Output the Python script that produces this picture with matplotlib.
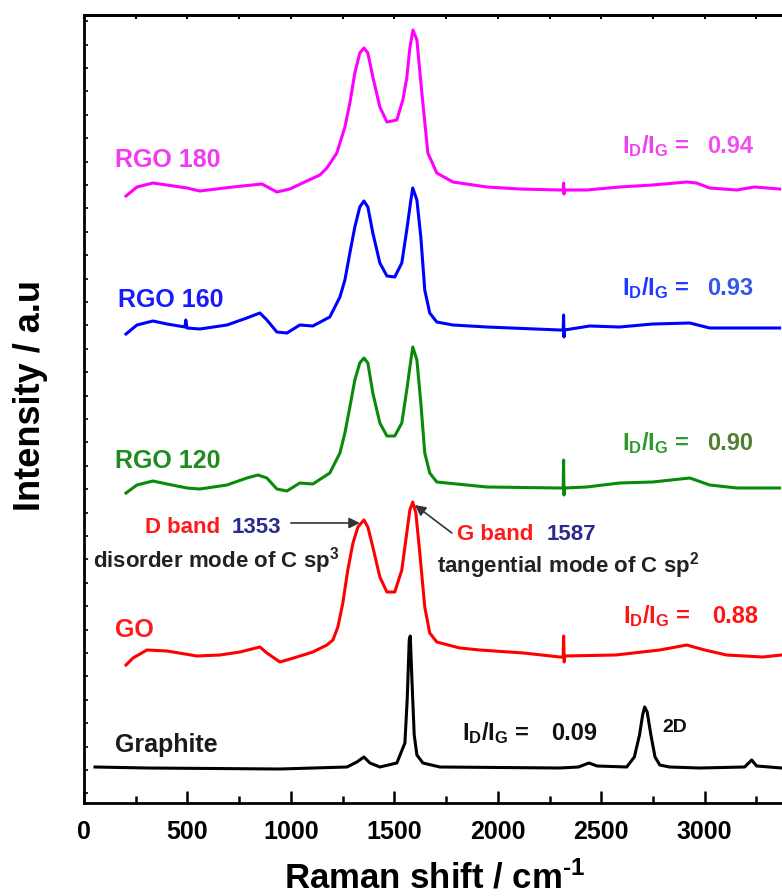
import matplotlib
matplotlib.use("Agg")
import matplotlib.pyplot as plt
from matplotlib.ticker import MultipleLocator

plt.rcParams.update({
    "font.family": "Liberation Sans",
    "font.weight": "bold",
    "mathtext.fontset": "custom",
    "mathtext.rm": "Liberation Sans:bold",
    "mathtext.it": "Liberation Sans:bold",
    "mathtext.bf": "Liberation Sans:bold",
    "mathtext.sf": "Liberation Sans:bold",
})

# Raman shift (cm-1) and stacked intensity (a.u.) of each sample
graphite_x = [53, 304, 947, 1271, 1319, 1353, 1382, 1430, 1512, 1551, 1562, 1572, 1577,
              1585, 1596, 1609, 1638, 1720, 2300, 2390, 2440, 2480, 2623, 2660, 2685,
              2700, 2710, 2722, 2740, 2760, 2783, 2830, 2976, 3193, 3227, 3251, 3372]
graphite_y = [36, 35, 34, 36, 41, 46, 40, 36, 40, 60, 103, 163, 167,
              123, 68, 48, 40, 36, 35, 36, 40, 37, 36, 46, 68,
              88, 96, 91, 68, 46, 38, 36, 35, 36, 43, 37, 35]

go_x = [203, 237, 304, 401, 546, 657, 754, 850, 884, 947, 1029, 1106, 1174, 1203, 1227,
        1251, 1275, 1300, 1324, 1353, 1372, 1396, 1430, 1464, 1502, 1536, 1560, 1575,
        1589, 1604, 1623, 1647, 1671, 1705, 1816, 1913, 2125, 2300, 2316, 2318, 2321,
        2324, 2570, 2783, 2913, 3000, 3106, 3280, 3372]
go_y = [138, 145, 153, 152, 147, 148, 151, 156, 150, 141, 146, 151, 158, 163, 176,
        200, 233, 260, 276, 283, 276, 256, 226, 211, 211, 233, 270, 293,
        301, 290, 250, 196, 170, 161, 155, 153, 150, 146, 146, 167, 141,
        147, 148, 153, 158, 153, 148, 146, 148]

rgo120_x = [203, 256, 333, 401, 498, 560, 691, 787, 841, 884, 932, 981, 1043, 1106, 1188,
            1237, 1261, 1285, 1309, 1333, 1353, 1372, 1396, 1430, 1464, 1502, 1536, 1560,
            1580, 1589, 1609, 1628, 1647, 1671, 1705, 1947, 2300, 2316, 2318, 2320, 2322,
            2430, 2589, 2749, 2928, 3024, 3155, 3362]
rgo120_y = [310, 318, 322, 319, 315, 314, 318, 325, 328, 325, 314, 312, 320, 319, 330,
            350, 370, 396, 423, 440, 445, 440, 410, 380, 367, 367, 380, 413,
            443, 456, 443, 400, 350, 330, 321, 316, 315, 315, 343, 308, 315,
            316, 320, 321, 325, 318, 315, 315]

rgo160_x = [203, 256, 333, 401, 488, 492, 498, 560, 691, 787, 850, 884, 932, 981, 1043,
            1106, 1188, 1237, 1261, 1285, 1309, 1333, 1353, 1372, 1396, 1430, 1464, 1502,
            1536, 1560, 1580, 1589, 1609, 1628, 1647, 1671, 1705, 1783, 1947, 2300, 2316,
            2318, 2320, 2322, 2444, 2589, 2749, 2928, 3024, 3362]
rgo160_y = [469, 478, 482, 479, 476, 483, 475, 474, 478, 485, 490, 483, 471, 470, 478,
            477, 486, 506, 523, 550, 576, 596, 602, 596, 570, 540, 527, 526,
            540, 573, 603, 615, 603, 566, 513, 490, 481, 478, 476, 473, 473,
            488, 466, 473, 477, 476, 479, 480, 475, 475]

rgo180_x = [203, 256, 333, 498, 560, 720, 860, 932, 995, 1077, 1140, 1174, 1222, 1261,
            1285, 1309, 1333, 1353, 1372, 1396, 1430, 1464, 1512, 1541, 1560, 1575, 1590,
            1609, 1633, 1662, 1705, 1783, 1947, 2106, 2300, 2316, 2318, 2320, 2322, 2430,
            2589, 2749, 2913, 2961, 3024, 3155, 3240, 3362]
rgo180_y = [607, 616, 620, 615, 612, 616, 619, 611, 614, 622, 628, 635, 650, 676,
            700, 730, 750, 755, 750, 726, 696, 681, 683, 703, 725, 755, 773,
            763, 710, 650, 630, 621, 616, 614, 613, 613, 620, 609, 613, 613,
            616, 618, 621, 620, 615, 613, 616, 614]

spectra = [
    (graphite_x, graphite_y, "black"),
    (go_x, go_y, "#ff0000"),
    (rgo120_x, rgo120_y, "#0a8a0a"),
    (rgo160_x, rgo160_y, "#0000ff"),
    (rgo180_x, rgo180_y, "#ff00ff"),
]

sample_names = ["Graphite", "GO", "RGO 120", "RGO 160", "RGO 180"]
name_colors = ["#1a1a1a", "#ff1a1a", "#1e8c1e", "#1a1aff", "#f03cf0"]
name_x = [150, 150, 150, 164, 150]
name_y = [51, 166, 335, 496, 636]

ratio_values = ["0.09", "0.88", "0.90", "0.93", "0.94"]
ratio_colors = ["#111111", "#ff1414", "#2e9a2e", "#1e3cff", "#f040f0"]
value_colors = ["#111111", "#ff1414", "#4f7f2f", "#3355ee", "#f050f0"]
ratio_x = [1826, 2604, 2599, 2599, 2599]
value_x = [2256, 3034, 3010, 3010, 3010]
ratio_y = [63, 180, 353, 508, 650]

fig = plt.figure(figsize=(7.82, 8.96), dpi=100)
ax = fig.add_axes([84 / 782, 93 / 896, 720 / 782, 788 / 896])

for xs, ys, c in spectra:
    ax.plot(xs, ys, color=c, lw=2.2, solid_joinstyle="round")

for name, c, x, y in zip(sample_names, name_colors, name_x, name_y):
    ax.text(x, y, name, color=c, fontsize=18, fontweight="bold", va="baseline")

for val, c1, c2, x1, x2, y in zip(ratio_values, ratio_colors, value_colors,
                                   ratio_x, value_x, ratio_y):
    ax.text(x1, y, r"I$_{D}$/I$_{G}$ =", color=c1, fontsize=17, va="baseline")
    ax.text(x2, y, val, color=c2, fontsize=17, va="baseline")

ax.text(2797, 71, "2D", color="#111111", fontsize=14, va="baseline")

# band assignments
ax.text(295, 270, "D band", color="#ff1a1a", fontsize=16, va="baseline")
ax.text(715, 270, "1353", color="#2b2b8c", fontsize=16, va="baseline")
ax.text(43, 236, r"disorder mode of C sp$^{3}$", color="#222222", fontsize=16,
        va="baseline")
ax.annotate("", xy=(1333, 280), xytext=(1000, 280),
            arrowprops=dict(arrowstyle="-|>", color="#333333", lw=1.2,
                            mutation_scale=16, shrinkA=0, shrinkB=0))

ax.text(1802, 263, "G band", color="#ff1a1a", fontsize=16, va="baseline")
ax.text(2237, 263, "1587", color="#2b2b8c", fontsize=16, va="baseline")
ax.text(1705, 231, r"tangential mode of C sp$^{2}$", color="#222222", fontsize=16,
        va="baseline")
ax.annotate("", xy=(1599, 298), xytext=(1778, 270),
            arrowprops=dict(arrowstyle="-|>", color="#333333", lw=1.2,
                            mutation_scale=16, shrinkA=0, shrinkB=0))

ax.set_xlim(0, 3480)
ax.set_ylim(0, 788)

ax.xaxis.set_major_locator(MultipleLocator(500))
ax.xaxis.set_minor_locator(MultipleLocator(250))
ax.yaxis.set_major_locator(MultipleLocator(23.4, offset=9.6))
ax.tick_params(axis="x", which="major", direction="in", length=9, width=1.8,
               labelsize=18, pad=12)
ax.tick_params(axis="x", which="minor", direction="in", length=5, width=1.8)
ax.tick_params(axis="y", which="major", direction="in", length=3, width=1.2,
               labelleft=False)
for lab in ax.get_xticklabels():
    lab.set_fontweight("bold")

top = ax.secondary_xaxis("top")
top.xaxis.set_major_locator(MultipleLocator(250))
top.tick_params(direction="in", length=3, width=1.5, labeltop=False)

for s in ax.spines.values():
    s.set_linewidth(2.0)
top.spines["top"].set_linewidth(2.0)

fig.text(435 / 782, 8 / 896, r"Raman shift / cm$^{\text{-1}}$", fontsize=25,
         fontweight="bold", ha="center", va="baseline")
fig.text(31 / 782, 1 - 395 / 896, "Intensity / a.u", fontsize=26,
         fontweight="bold", rotation=90, ha="center", va="center")

fig.savefig("out.png", dpi=100)
